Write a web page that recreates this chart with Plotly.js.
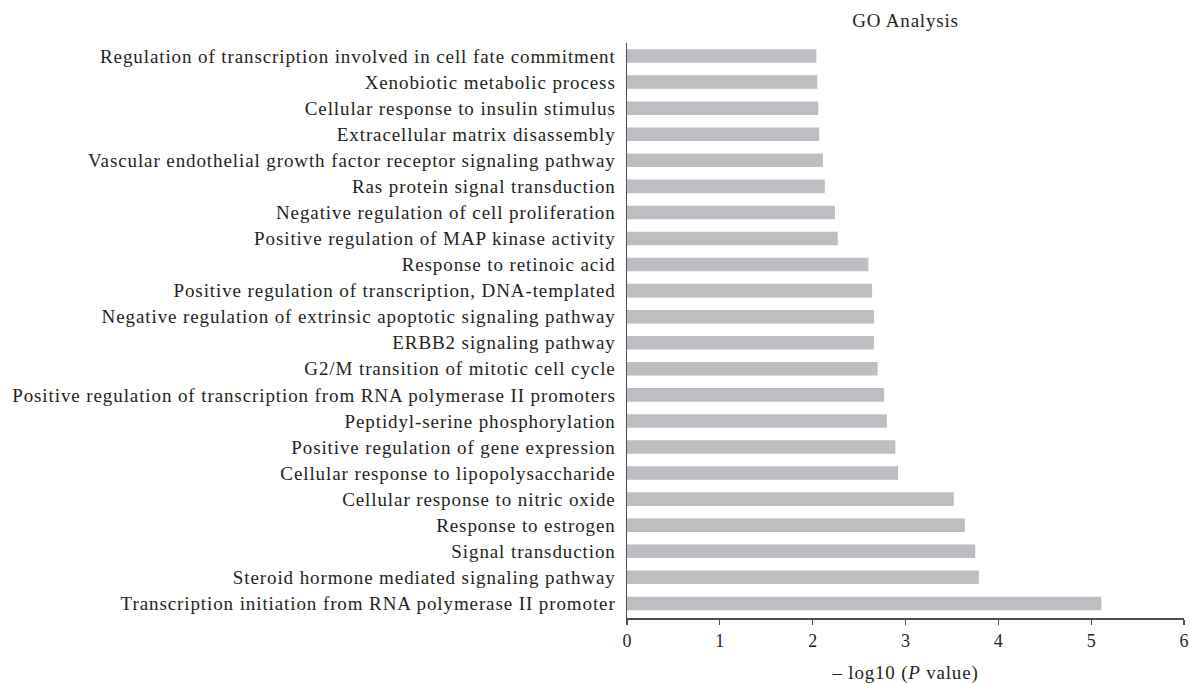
<!DOCTYPE html>
<html>
<head>
<meta charset="utf-8">
<script src="https://cdn.plot.ly/plotly-3.0.1.min.js"></script>
<style>
html,body{margin:0;padding:0;background:#fff;}
#chart{width:1191px;height:684px;}
#chart .ytick text{letter-spacing:0.9px;}
#chart .gtitle, #chart .xtitle{letter-spacing:0.8px;}
</style>
</head>
<body>
<div id="chart"></div>
<script>
// Categories listed top to bottom as in the reference
const categories = [
  "Regulation of transcription involved in cell fate commitment",
  "Xenobiotic metabolic process",
  "Cellular response to insulin stimulus",
  "Extracellular matrix disassembly",
  "Vascular endothelial growth factor receptor signaling pathway",
  "Ras protein signal transduction",
  "Negative regulation of cell proliferation",
  "Positive regulation of MAP kinase activity",
  "Response to retinoic acid",
  "Positive regulation of transcription, DNA-templated",
  "Negative regulation of extrinsic apoptotic signaling pathway",
  "ERBB2 signaling pathway",
  "G2/M transition of mitotic cell cycle",
  "Positive regulation of transcription from RNA polymerase II promoters",
  "Peptidyl-serine phosphorylation",
  "Positive regulation of gene expression",
  "Cellular response to lipopolysaccharide",
  "Cellular response to nitric oxide",
  "Response to estrogen",
  "Signal transduction",
  "Steroid hormone mediated signaling pathway",
  "Transcription initiation from RNA polymerase II promoter"
];
const negLog10P = [
  2.04, 2.05, 2.06, 2.07, 2.11, 2.13, 2.24, 2.27,
  2.60, 2.64, 2.66, 2.66, 2.70, 2.77, 2.80, 2.89,
  2.92, 3.52, 3.64, 3.75, 3.79, 5.11
];
const xTicks = [0, 1, 2, 3, 4, 5, 6];

const fontFam = "Liberation Serif, Times New Roman, serif";
const textColor = "#231f20";

const trace = {
  type: "bar",
  orientation: "h",
  x: negLog10P,
  y: categories,
  marker: {color: "#bdbec1"},
  hoverinfo: "x+y"
};

const layout = {
  width: 1191,
  height: 684,
  margin: {l: 627, r: 7, t: 43, b: 66},
  paper_bgcolor: "#ffffff",
  plot_bgcolor: "#ffffff",
  bargap: 0.48,
  showlegend: false,
  font: {family: fontFam, color: textColor, size: 16},
  title: {
    text: "GO Analysis",
    font: {family: fontFam, size: 19, color: textColor},
    x: 0.5, xref: "paper", xanchor: "center",
    y: 0.97, yref: "container", yanchor: "middle"
  },
  xaxis: {
    range: [0, 6],
    tickvals: xTicks,
    ticktext: xTicks.map(String),
    showgrid: false,
    zeroline: false,
    showline: true,
    linecolor: "#4d4d4f",
    linewidth: 1.5,
    ticks: "outside",
    ticklen: 5,
    tickwidth: 1.2,
    tickcolor: "#4d4d4f",
    ticklabelstandoff: 1,
    tickfont: {family: fontFam, size: 18, color: textColor},
    title: {
      text: "\u2013 log10 (<i>P</i> value)",
      font: {family: fontFam, size: 19, color: textColor},
      standoff: 31
    }
  },
  yaxis: {
    type: "category",
    range: [21.56, -0.5],
    showgrid: false,
    zeroline: false,
    showline: true,
    linecolor: "#4d4d4f",
    linewidth: 1.5,
    ticks: "",
    ticklabelstandoff: 6,
    tickfont: {family: fontFam, size: 19, color: textColor}
  }
};

Plotly.newPlot("chart", [trace], layout, {displayModeBar: false, staticPlot: true});
</script>
</body>
</html>
